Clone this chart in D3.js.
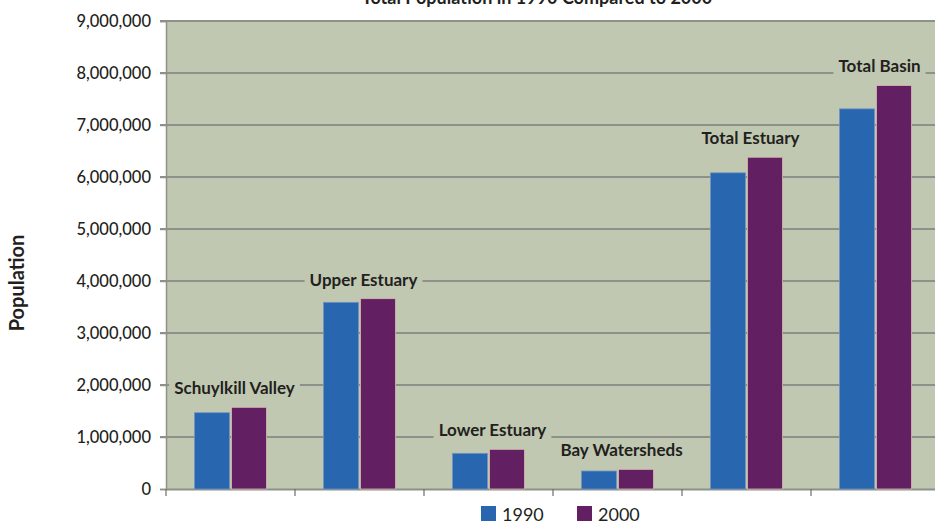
<!DOCTYPE html>
<html><head><meta charset="utf-8">
<script src="https://cdn.jsdelivr.net/npm/d3@7"></script>
<style>
body{margin:0;background:#fff;}
svg{display:block;font-family:Lato,"Open Sans",sans-serif;}
</style></head>
<body><svg id="c" width="935" height="523"></svg>
<script>
const categories = ["Schuylkill Valley","Upper Estuary","Lower Estuary","Bay Watersheds","Total Estuary","Total Basin"];
const series = ["1990","2000"];
const values1990 = [1467000,3590000,686000,346000,6080000,7310000];
const values2000 = [1571000,3660000,763000,378000,6380000,7760000];
const yTicks = [0,1000000,2000000,3000000,4000000,5000000,6000000,7000000,8000000,9000000];
const title = "Total Population in 1990 Compared to 2000";
const yTitle = "Population";
const colors = ["#2966b0","#621f61"];

const svg = d3.select("#c");
const m = {left:166, top:21, right:940, bottom:489};
const plotBg = "#c0c8b1";
const grid = "#8e9189";

const x = d3.scaleBand().domain(categories).range([m.left, m.right]).paddingInner(0).paddingOuter(0);
const y = d3.scaleLinear().domain([0,9000000]).range([m.bottom, m.top]);
const barW = 35, gap = 2;

svg.append("rect").attr("x",m.left).attr("y",m.top).attr("width",m.right-m.left).attr("height",m.bottom-m.top).attr("fill",plotBg);

// gridlines
svg.append("g").selectAll("line").data(yTicks.filter(d=>d>0)).join("line")
  .attr("x1",m.left-6).attr("x2",m.right).attr("y1",d=>y(d)).attr("y2",d=>y(d))
  .attr("stroke",grid).attr("stroke-width",2);

// y axis
const ya = svg.append("g").attr("transform",`translate(${m.left},0)`)
  .call(d3.axisLeft(y).tickValues(yTicks).tickFormat(d3.format(",")).tickSize(6).tickPadding(9));
ya.select(".domain").attr("stroke",grid).attr("stroke-width",1.5);
ya.selectAll(".tick line").attr("stroke",grid).attr("stroke-width",1.5);
ya.selectAll("text").attr("font-size",16.5).attr("fill","#231f20").attr("font-family","Lato").attr("font-weight",500);

// x axis
const xa = svg.append("g").attr("transform",`translate(0,${m.bottom})`)
  .call(d3.axisBottom(x).tickSize(0).tickFormat(""));
xa.select(".domain").attr("stroke",grid).attr("stroke-width",2);
svg.append("g").selectAll("line").data(categories).join("line")
  .attr("x1",d=>x(d)).attr("x2",d=>x(d)).attr("y1",m.bottom).attr("y2",m.bottom+7)
  .attr("stroke","#6d6e6a").attr("stroke-width",1.2);

// bars
const groups = svg.append("g").selectAll("g").data(categories).join("g");
[values1990, values2000].forEach((vals,si)=>{
  groups.append("rect")
    .attr("x",(d,i)=>x(d)+x.bandwidth()/2 + (si===0 ? -barW-gap/2 : gap/2))
    .attr("y",(d,i)=>y(vals[i]))
    .attr("width",barW)
    .attr("height",(d,i)=>m.bottom-y(vals[i]))
    .attr("fill",colors[si])
    .attr("stroke",si===0?"#6e94c0":"#d8b8b0").attr("stroke-width",0.8);
});

// category labels with bg
categories.forEach((c,i)=>{
  const top = y(Math.max(values1990[i],values2000[i]));
  const g = svg.append("g");
  const t = g.append("text").attr("x",x(c)+x.bandwidth()/2+4).attr("y",top-13)
    .attr("text-anchor","middle").attr("font-weight","bold").attr("font-size",17)
    .attr("fill","#231f20").text(c);
  const bb = t.node().getBBox();
  g.insert("rect","text").attr("x",bb.x-5).attr("y",bb.y).attr("width",bb.width+10).attr("height",bb.height).attr("fill",plotBg);
});

// title
svg.append("text").attr("x",537).attr("y",4).attr("text-anchor","middle")
  .attr("font-weight","bold").attr("font-size",18).attr("fill","#231f20").text(title);

// y title
svg.append("text").attr("transform","translate(24,283) rotate(-90)").attr("text-anchor","middle")
  .attr("font-weight","bold").attr("font-size",20).attr("fill","#231f20").text(yTitle);

// legend
const lg = svg.append("g");
series.forEach((s,i)=>{
  const lx = 481 + i*96;
  lg.append("rect").attr("x",lx).attr("y",506).attr("width",15).attr("height",15).attr("fill",colors[i]);
  lg.append("text").attr("x",lx+21).attr("y",521).attr("font-size",18).attr("fill","#231f20").text(s);
});
</script></body></html>
